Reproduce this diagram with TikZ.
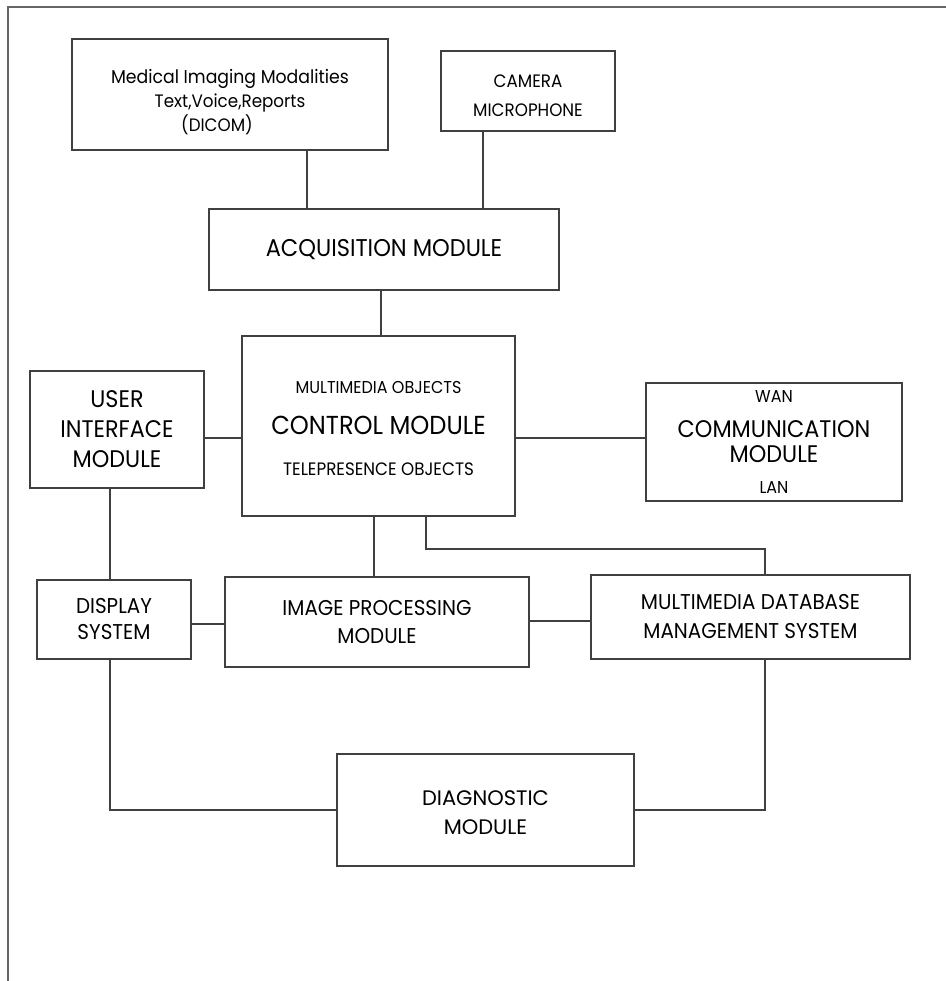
\documentclass[tikz,border=0pt]{standalone}
\usepackage{fontspec}
\setmainfont{Poppins}[FakeStretch=0.93]
\newfontfamily\diagfont{Poppins}
\begin{document}
\begin{tikzpicture}[x=0.5pt, y=-0.5pt,
    box/.style={draw=black!75, line width=0.65pt, align=center, inner sep=0pt},
    wire/.style={draw=black!75, line width=0.65pt}]
  \useasboundingbox (0,0) rectangle (946,981);
  \draw[black!60, line width=0.8pt] (946,7) -- (8,7) -- (8,981);

  \coordinate (xmed)  at (307,0);
  \coordinate (xcam)  at (483,0);
  \coordinate (xacq)  at (381,0);
  \coordinate (xdisp) at (110,0);
  \coordinate (xip)   at (374,0);
  \coordinate (xdb)   at (426,0);
  \coordinate (xmm)   at (765,0);
  \coordinate (yui)   at (0,438);
  \coordinate (ybus)  at (0,549);
  \coordinate (yip)   at (0,624);
  \coordinate (ydb)   at (0,621);

  \node[box, minimum width=158pt, minimum height=55.5pt, font=\fontsize{9}{12}\selectfont] (med) at (230,94.5)
    {{\fontsize{9.3}{12}\selectfont\rule{0pt}{15pt}Medical Imaging Modalities}\\ Text,Voice,Reports\hspace*{12pt}\\ (DICOM)\hspace*{13pt}};
  \node[box, minimum width=87pt, minimum height=40pt, font=\fontsize{9}{14.5}\selectfont] (cam) at (528,91)
    {\rule{0pt}{11pt}CAMERA\\ MICROPHONE};
  \node[box, minimum width=175pt, minimum height=40.5pt, font=\fontsize{12.1}{14}\selectfont] (acq) at (384,249.5)
    {ACQUISITION MODULE};
  \node[box, minimum width=136.5pt, minimum height=90pt, font=\fontsize{8.6}{20.5}\selectfont] (ctrl) at (378.5,426)
    {\rule{0pt}{9pt}MULTIMEDIA OBJECTS\\ {\fontsize{13}{20}\selectfont CONTROL MODULE}\\ {\fontsize{9}{20}\selectfont TELEPRESENCE OBJECTS}};
  \node[box, minimum width=87pt, minimum height=58.5pt, font=\fontsize{12}{15}\selectfont] (ui) at (117,429.5)
    {USER\\ INTERFACE\\ MODULE};
  \node[box, minimum width=128pt, minimum height=59pt, font=\fontsize{12}{12.5}\selectfont] (comm) at (774,442)
    {{\fontsize{8.6}{12.5}\selectfont WAN}\\[5pt] COMMUNICATION\\ MODULE\\[3pt] {\fontsize{8.6}{12.5}\selectfont LAN}};
  \node[box, minimum width=77pt, minimum height=39.5pt, font=\fontsize{10.7}{13}\selectfont] (disp) at (114,619.5)
    {DISPLAY\\ SYSTEM};
  \node[box, minimum width=152pt, minimum height=45pt, font=\fontsize{10.7}{14}\selectfont] (imgp) at (377,622)
    {IMAGE PROCESSING\\ MODULE};
  \node[box, minimum width=159.5pt, minimum height=42pt, font=\fontsize{10.7}{14.5}\selectfont] (mmdb) at (750.5,617)
    {MULTIMEDIA DATABASE\\ MANAGEMENT SYSTEM};
  \node[box, minimum width=148.5pt, minimum height=56pt, font=\diagfont\fontsize{10.5}{14.5}\selectfont] (diag) at (485.5,810)
    {\rule{0pt}{10pt}DIAGNOSTIC\\ MODULE};

  \draw[wire] (med.south -| xmed) -- (acq.north -| xmed);
  \draw[wire] (cam.south -| xcam) -- (acq.north -| xcam);
  \draw[wire] (acq.south -| xacq) -- (ctrl.north -| xacq);
  \draw[wire] (ui.east |- yui) -- (ctrl.west |- yui);
  \draw[wire] (ctrl.east |- yui) -- (comm.west |- yui);
  \draw[wire] (ui.south -| xdisp) -- (disp.north -| xdisp);
  \draw[wire] (ctrl.south -| xip) -- (imgp.north -| xip);
  \draw[wire] (ctrl.south -| xdb) |- (xmm |- ybus) -- (mmdb.north -| xmm);
  \draw[wire] (disp.east |- yip) -- (imgp.west |- yip);
  \draw[wire] (imgp.east |- ydb) -- (mmdb.west |- ydb);
  \draw[wire] (disp.south -| xdisp) |- (diag.west);
  \draw[wire] (mmdb.south -| xmm) |- (diag.east);
\end{tikzpicture}
\end{document}
